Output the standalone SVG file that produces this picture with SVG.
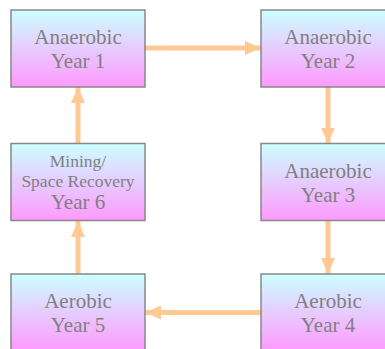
<svg xmlns="http://www.w3.org/2000/svg" width="385" height="349" viewBox="0 0 385 349">
<defs>
<linearGradient id="g" x1="0" y1="0" x2="0" y2="1">
<stop offset="0" stop-color="#ccffff"/>
<stop offset="1" stop-color="#ff99ff"/>
</linearGradient>
<marker id="ah" viewBox="0 0 16 14" refX="16" refY="7" markerWidth="16" markerHeight="14" markerUnits="userSpaceOnUse" orient="auto">
<path d="M0,0 L16,7 L0,14 Z" fill="#ffc993"/>
</marker>
<style>
.box{fill:url(#g);stroke:#888888;stroke-width:1.5}
.t{font-family:"Liberation Serif","Times New Roman",serif;font-size:21px;fill:#808080;text-anchor:middle}
.s{font-size:17.5px}
.c{stroke:#ffc993;stroke-width:5;fill:none;marker-end:url(#ah)}
</style>
</defs>
<rect width="385" height="349" fill="#ffffff"/>
<g id="connectors">
<line class="c" x1="145" y1="48" x2="261" y2="48"/>
<line class="c" x1="328" y1="87" x2="328" y2="143.5"/>
<line class="c" x1="328" y1="221" x2="328" y2="274"/>
<line class="c" x1="261" y1="312.5" x2="145" y2="312.5"/>
<line class="c" x1="78" y1="274" x2="78" y2="221"/>
<line class="c" x1="78" y1="143.5" x2="78" y2="87"/>
</g>
<g id="year1">
<rect class="box" x="11" y="10" width="134" height="77"/>
<text class="t" x="78" y="44">Anaerobic</text>
<text class="t" x="78" y="68">Year 1</text>
</g>
<g id="year2">
<rect class="box" x="261" y="10" width="134" height="77"/>
<text class="t" x="328" y="44">Anaerobic</text>
<text class="t" x="328" y="68">Year 2</text>
</g>
<g id="year3">
<rect class="box" x="261" y="143.5" width="134" height="77"/>
<text class="t" x="328" y="177.5">Anaerobic</text>
<text class="t" x="328" y="201.5">Year 3</text>
</g>
<g id="year4">
<rect class="box" x="261" y="274" width="134" height="77"/>
<text class="t" x="328" y="308">Aerobic</text>
<text class="t" x="328" y="332">Year 4</text>
</g>
<g id="year5">
<rect class="box" x="11" y="274" width="134" height="77"/>
<text class="t" x="78" y="308">Aerobic</text>
<text class="t" x="78" y="332">Year 5</text>
</g>
<g id="year6">
<rect class="box" x="11" y="143.5" width="134" height="77"/>
<text class="t s" x="78" y="166.5">Mining/</text>
<text class="t s" x="78" y="186.5">Space Recovery</text>
<text class="t" x="78" y="209">Year 6</text>
</g>
</svg>
